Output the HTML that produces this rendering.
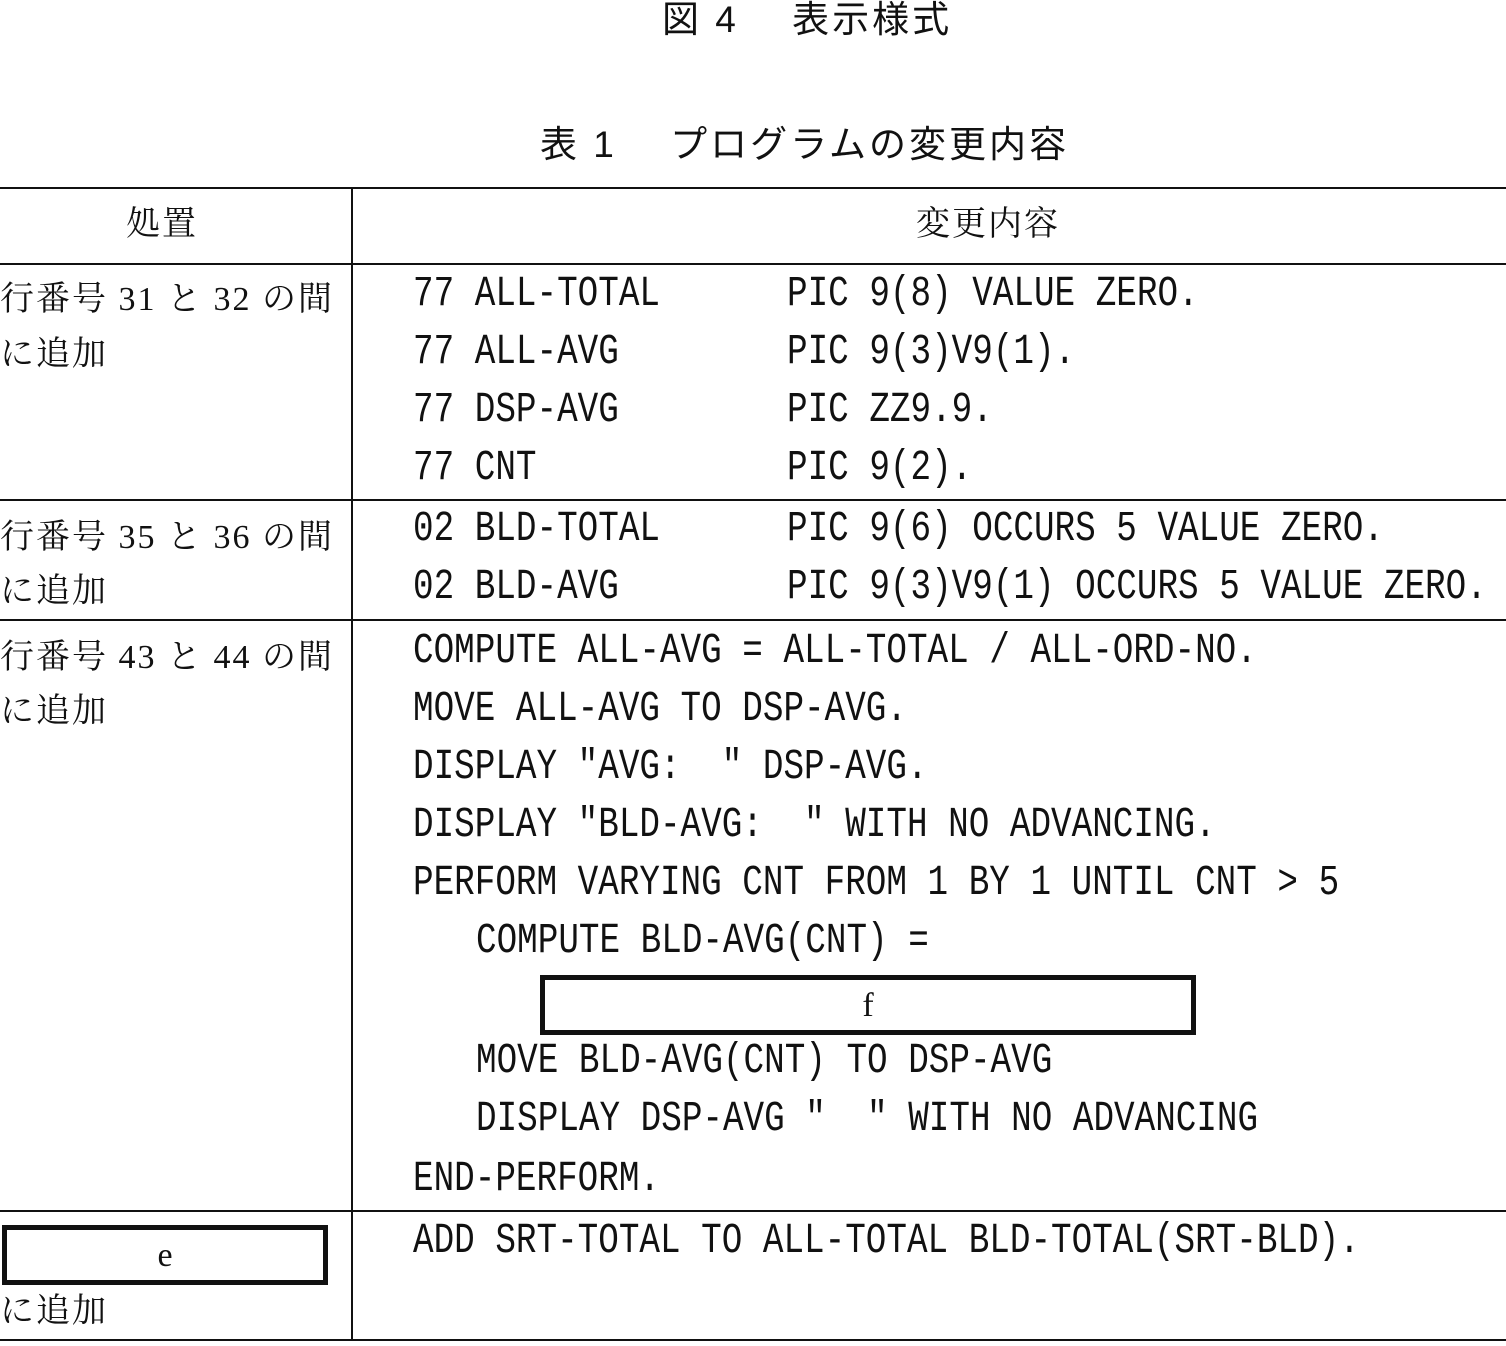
<!DOCTYPE html>
<html><head><meta charset="utf-8"><style>
body{margin:0;width:1506px;height:1346px;background:#fff;position:relative;overflow:hidden;color:#111}
.t{position:absolute;white-space:pre;line-height:40px;height:40px}
.j{font-family:"Liberation Serif","Noto Serif CJK SC","Noto Sans CJK JP",serif;font-size:34px;letter-spacing:2px}
.h{font-family:"Liberation Sans","Noto Sans CJK JP",sans-serif;font-size:37px;letter-spacing:3px}
.m{font-family:"Liberation Mono",monospace;font-size:34.3px;transform:scaleY(1.25);transform-origin:0 50%}
.hl{position:absolute;left:0;width:1506px;height:2px;background:#111}
.vl{position:absolute;width:2px;background:#111}
.box{position:absolute;border:5px solid #111;box-sizing:border-box;font-family:"Liberation Serif",serif;font-size:34px;text-align:center}
</style></head><body>
<div class="t h" style="left:662px;top:0px">図 4　 表示様式</div>
<div class="t h" style="left:540px;top:125px">表 1　 プログラムの変更内容</div>
<div class="hl" style="top:187px"></div>
<div class="hl" style="top:263px"></div>
<div class="hl" style="top:499px"></div>
<div class="hl" style="top:619px"></div>
<div class="hl" style="top:1210px"></div>
<div class="hl" style="top:1339px"></div>
<div class="vl" style="left:351px;top:187px;height:1154px"></div>
<div class="t j" style="left:126px;top:205px">処置</div>
<div class="t j" style="left:916px;top:205px">変更内容</div>

<div class="t j" style="left:0;top:280px">行番号 31 と 32 の間</div>
<div class="t j" style="left:0;top:335px">に追加</div>
<div class="t j" style="left:0;top:518px">行番号 35 と 36 の間</div>
<div class="t j" style="left:0;top:572px">に追加</div>
<div class="t j" style="left:0;top:638px">行番号 43 と 44 の間</div>
<div class="t j" style="left:0;top:692px">に追加</div>
<div class="box" style="left:2px;top:1225px;width:326px;height:60px;line-height:52px">e</div>
<div class="t j" style="left:0;top:1292px">に追加</div>

<div class="t m" style="left:413px;top:275px">77 ALL-TOTAL</div><div class="t m" style="left:787px;top:275px">PIC 9(8) VALUE ZERO.</div>
<div class="t m" style="left:413px;top:333px">77 ALL-AVG</div><div class="t m" style="left:787px;top:333px">PIC 9(3)V9(1).</div>
<div class="t m" style="left:413px;top:391px">77 DSP-AVG</div><div class="t m" style="left:787px;top:391px">PIC ZZ9.9.</div>
<div class="t m" style="left:413px;top:449px">77 CNT</div><div class="t m" style="left:787px;top:449px">PIC 9(2).</div>
<div class="t m" style="left:413px;top:510px">02 BLD-TOTAL</div><div class="t m" style="left:787px;top:510px">PIC 9(6) OCCURS 5 VALUE ZERO.</div>
<div class="t m" style="left:413px;top:568px">02 BLD-AVG</div><div class="t m" style="left:787px;top:568px">PIC 9(3)V9(1) OCCURS 5 VALUE ZERO.</div>

<div class="t m" style="left:413px;top:632px">COMPUTE ALL-AVG = ALL-TOTAL / ALL-ORD-NO.</div>
<div class="t m" style="left:413px;top:690px">MOVE ALL-AVG TO DSP-AVG.</div>
<div class="t m" style="left:413px;top:748px">DISPLAY "AVG:  " DSP-AVG.</div>
<div class="t m" style="left:413px;top:806px">DISPLAY "BLD-AVG:  " WITH NO ADVANCING.</div>
<div class="t m" style="left:413px;top:864px">PERFORM VARYING CNT FROM 1 BY 1 UNTIL CNT &gt; 5</div>
<div class="t m" style="left:476px;top:922px">COMPUTE BLD-AVG(CNT) =</div>
<div class="box" style="left:540px;top:975px;width:656px;height:60px;line-height:52px">f</div>
<div class="t m" style="left:476px;top:1042px">MOVE BLD-AVG(CNT) TO DSP-AVG</div>
<div class="t m" style="left:476px;top:1100px">DISPLAY DSP-AVG "  " WITH NO ADVANCING</div>
<div class="t m" style="left:413px;top:1160px">END-PERFORM.</div>
<div class="t m" style="left:413px;top:1222px">ADD SRT-TOTAL TO ALL-TOTAL BLD-TOTAL(SRT-BLD).</div>
</body></html>
